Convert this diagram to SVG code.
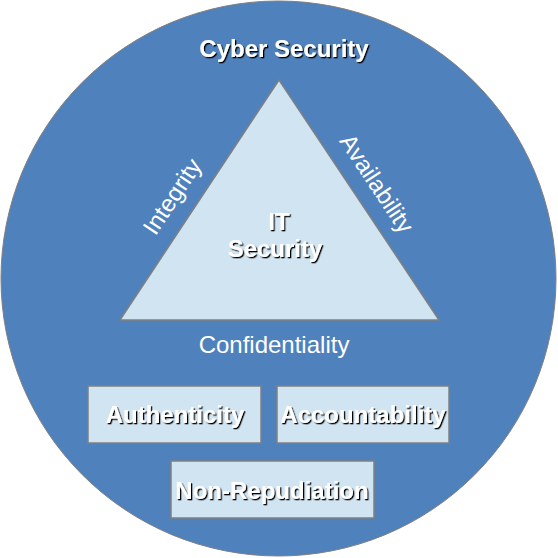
<svg xmlns="http://www.w3.org/2000/svg" width="558" height="558" viewBox="0 0 558 558">
<defs>
<filter id="sh" x="-10%" y="-10%" width="120%" height="130%">
<feDropShadow dx="1.3" dy="1.3" stdDeviation="0.3" flood-color="#000" flood-opacity="1"/>
</filter>
</defs>
<style>
.t{font-family:"Liberation Sans",Arial,sans-serif;fill:#fff;text-anchor:middle;font-size:24px}
.b{font-weight:bold;filter:url(#sh)}
.box{fill:#d0e4f2;stroke:#808080;stroke-width:1.5}
</style>
<g id="cyber">
<circle cx="278.5" cy="278.5" r="277.5" fill="#4f81bd" stroke="#808080" stroke-width="1"/>
<text class="t b" x="284" y="57">Cyber Security</text>
</g>
<g id="it">
<polygon points="279,80 120,320 439,320" fill="#d0e4f2" stroke="#808080" stroke-width="1.5"/>
<text class="t b" x="279" y="230">IT</text>
<text class="t b" x="275" y="257">Security</text>
</g>
<g id="labels">
<text class="t" transform="translate(179,201) rotate(-56.5)">Integrity</text>
<text class="t" transform="translate(370,188) rotate(56.5)">Availability</text>
<text class="t" x="274" y="353">Confidentiality</text>
</g>
<g id="authenticity">
<rect class="box" x="88" y="386" width="173" height="57"/>
<text class="t b" x="175" y="423">Authenticity</text>
</g>
<g id="accountability">
<rect class="box" x="277" y="386" width="172" height="57"/>
<text class="t b" x="363" y="423">Accountability</text>
</g>
<g id="nonrepudiation">
<rect class="box" x="171" y="461" width="203" height="57"/>
<text class="t b" x="272" y="499">Non-Repudiation</text>
</g>
<g id="connectors"/>
</svg>
